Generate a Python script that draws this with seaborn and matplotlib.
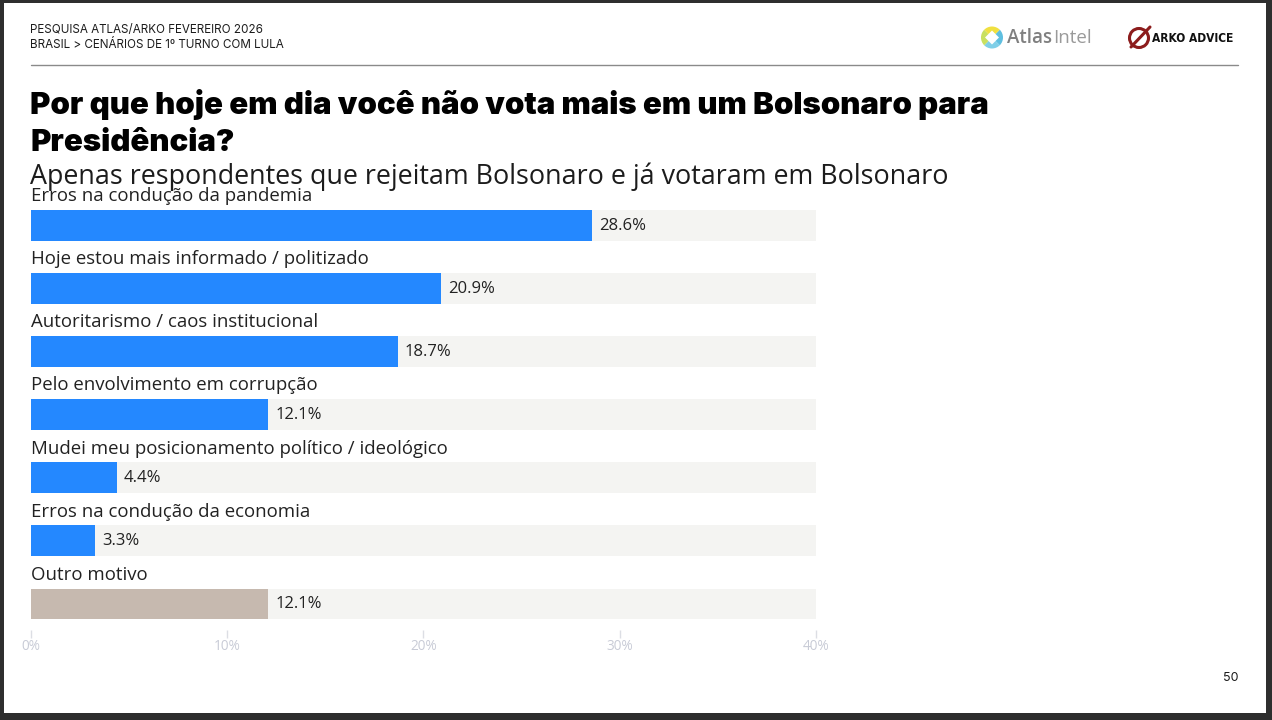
import pandas as pd
import matplotlib
matplotlib.use('Agg')
import matplotlib.pyplot as plt
import matplotlib.patches as patches
import seaborn as sns

# dados
motivos = ['Erros na condução da pandemia', 'Hoje estou mais informado / politizado',
           'Autoritarismo / caos institucional', 'Pelo envolvimento em corrupção',
           'Mudei meu posicionamento político / ideológico', 'Erros na condução da economia',
           'Outro motivo']
valores = [28.6, 20.9, 18.7, 12.1, 4.4, 3.3, 12.1]
grupos = ['motivo', 'motivo', 'motivo', 'motivo', 'motivo', 'motivo', 'outro']
fundo = [40, 40, 40, 40, 40, 40, 40]
ticks = [0, 10, 20, 30, 40]
tick_labels = ['0%', '10%', '20%', '30%', '40%']

W, H = 1272, 720
sns.set_theme(style='white')
plt.rcParams['font.family'] = ['Open Sans', 'DejaVu Sans']

df = pd.DataFrame({'motivo': motivos, 'valor': valores, 'grupo': grupos, 'fundo': fundo})

fig = plt.figure(figsize=(W / 100, H / 100), dpi=100, facecolor='#2e2e2e')

# camada da pagina, em pixels
bg = fig.add_axes([0, 0, 1, 1], zorder=0)
bg.set_xlim(0, W)
bg.set_ylim(H, 0)
bg.axis('off')
bg.add_patch(patches.Rectangle((4, 3), 1262, 710, fc='white', ec='none'))
bg.plot([31, 1238], [65, 65], color='#8a8a8a', lw=1)

bg.text(30, 29.5, 'PESQUISA ATLAS/ARKO FEVEREIRO 2026', fontsize=8.4, color='#1c1c1c',
        family='Inter', va='center')
bg.text(30, 45.5, 'BRASIL > CENÁRIOS DE 1º TURNO COM LULA', fontsize=8.4, color='#1c1c1c',
        family='Inter', va='center')
title_font = dict(fontsize=22.4, color='black', family='Inter', weight='black',
                  va='center')
bg.text(30, 105, 'Por que hoje em dia você não vota mais em um Bolsonaro para', **title_font)
bg.text(30, 143, 'Presidência?', **title_font)
bg.text(30, 177, 'Apenas respondentes que rejeitam Bolsonaro e já votaram em Bolsonaro',
        fontsize=19.4, color='#1c1c1c', va='center', family='Open Sans')
bg.text(1238, 678, '50', fontsize=9, color='#1c1c1c', ha='right', va='center', family='Inter')

# logo AtlasIntel
for start, cor in [(-45, '#5fbfe0'), (45, '#7fcfe8'), (135, '#c8e060'), (225, '#f0e040')]:
    bg.add_patch(patches.Wedge((992, 37.5), 11, start, start + 90, width=11, fc=cor, ec='none'))
bg.add_patch(patches.RegularPolygon((992, 37.5), 4, radius=7, fc='white', ec='none'))
bg.text(1007, 38, 'Atlas', fontsize=13.5, color='#808080', va='center', family='Open Sans',
        weight='semibold')
bg.text(1053, 38, 'Intel', fontsize=13.5, color='#9a9a9a', va='center', family='Open Sans')

# logo Arko
bg.add_patch(patches.Circle((1139, 38), 9.5, fc='none', ec='#8c1c1c', lw=2.2))
bg.plot([1131, 1150], [47, 27], color='#8c1c1c', lw=2.2)
bg.text(1152, 38.5, 'ARKO ADVICE', fontsize=8.6, color='#111111', va='center',
        family='DejaVu Sans', stretch='condensed', weight='bold')

# grafico
ax = fig.add_axes([30.5 / W, 1 - 630 / H, (816 - 30.5) / W, (630 - 194) / H], zorder=1)
ax.patch.set_alpha(0)
sns.barplot(data=df, y='motivo', x='fundo', color='#f4f4f2', saturation=1, width=0.49,
            linewidth=0, ax=ax)
n_fundo = len(ax.containers)
sns.barplot(data=df, y='motivo', x='valor', hue='grupo',
            palette={'motivo': '#2488ff', 'outro': '#c6b9af'}, saturation=1,
            dodge=False, legend=False, width=0.49, linewidth=0, ax=ax)
for cont in ax.containers[n_fundo:]:
    ax.bar_label(cont, fmt='%.1f%%', padding=5, fontsize=12, color='#222222',
                 family='Open Sans')

for i, nome in enumerate(motivos):
    ax.text(0, i - 0.465, nome, fontsize=13.4, color='#222222', va='center', ha='left',
            family='Open Sans')

ax.set_xlim(0, 40)
ax.set_ylim(6.412, -0.5)
ax.set_xlabel('')
ax.set_ylabel('')
ax.set_yticks([])
ax.set_xticks(ticks)
ax.set_xticklabels(tick_labels, fontsize=9.8, color='#c8cbd6', family='Open Sans')
ax.tick_params(axis='x', length=6, width=1, color='#dcdee4', pad=0.5, bottom=True)
sns.despine(ax=ax, left=True, bottom=True)

fig.savefig('out.png', dpi=100, facecolor=fig.get_facecolor())
